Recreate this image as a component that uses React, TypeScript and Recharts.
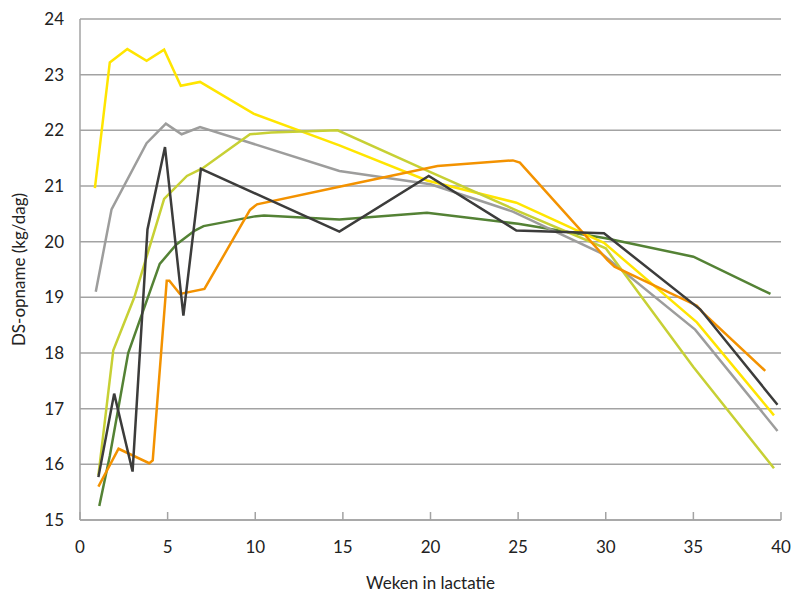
import { LineChart, Line, XAxis, YAxis, CartesianGrid } from "recharts";

const xTicks = [0, 5, 10, 15, 20, 25, 30, 35, 40];
const yTicks = [15, 16, 17, 18, 19, 20, 21, 22, 23, 24];

const yellowWeeks = [0.85, 1.7, 2.7, 3.8, 4.8, 5.75, 6.85, 9.9, 14.8, 19.8, 24.9, 29.9, 35.2, 39.6];
const yellowValues = [20.96, 23.22, 23.46, 23.25, 23.45, 22.8, 22.87, 22.3, 21.73, 21.1, 20.7, 19.98, 18.55, 16.88];

const grayWeeks = [0.9, 1.8, 3.8, 4.9, 5.8, 6.85, 14.8, 20, 24.7, 29.7, 35.1, 39.8];
const grayValues = [19.1, 20.58, 21.77, 22.12, 21.93, 22.06, 21.27, 21.03, 20.54, 19.8, 18.42, 16.6];

const lightGreenWeeks = [1.05, 1.9, 3.1, 4.8, 6.1, 7.0, 9.7, 10.9, 14.7, 20, 25, 30, 35, 39.6];
const lightGreenValues = [15.8, 18.05, 19.0, 20.77, 21.18, 21.32, 21.93, 21.96, 22.0, 21.25, 20.55, 19.88, 17.75, 15.93];

const darkGreenWeeks = [1.1, 1.7, 2.75, 4.55, 5.5, 6.55, 7.05, 9.9, 10.5, 14.8, 19.8, 25, 30, 35, 39.4];
const darkGreenValues = [15.25, 16.15, 18.0, 19.6, 19.95, 20.2, 20.28, 20.45, 20.47, 20.4, 20.52, 20.32, 20.06, 19.73, 19.06];

const orangeWeeks = [1.05, 2.2, 3.95, 4.15, 4.95, 5.1, 5.7, 7.1, 9.7, 10.1, 15, 20.4, 24.7, 25.1, 30.1, 30.5, 35.2, 35.5, 39.1];
const orangeValues = [15.6, 16.28, 16.02, 16.07, 19.3, 19.3, 19.06, 19.15, 20.57, 20.67, 21.0, 21.36, 21.46, 21.42, 19.67, 19.55, 18.85, 18.74, 17.68];

const blackWeeks = [1.05, 1.95, 3.0, 3.85, 4.85, 5.9, 6.9, 14.8, 19.9, 24.9, 29.9, 35.4, 39.8];
const blackValues = [15.77, 17.27, 15.87, 20.22, 21.7, 18.67, 21.31, 20.18, 21.18, 20.2, 20.15, 18.78, 17.07];

const toPoints = (weeks: number[], values: number[]) =>
  weeks.map((week, i) => ({ week, value: values[i] }));

const series = [
  { name: "darkGreen", color: "#548235", data: toPoints(darkGreenWeeks, darkGreenValues) },
  { name: "gray", color: "#9d9d9c", data: toPoints(grayWeeks, grayValues) },
  { name: "yellow", color: "#ffe500", data: toPoints(yellowWeeks, yellowValues) },
  { name: "lightGreen", color: "#c7d034", data: toPoints(lightGreenWeeks, lightGreenValues) },
  { name: "orange", color: "#f39200", data: toPoints(orangeWeeks, orangeValues) },
  { name: "black", color: "#3c3c3b", data: toPoints(blackWeeks, blackValues) },
];

const font = "Lato, 'Open Sans', sans-serif";

export default function App() {
  return (
    <div style={{ position: "absolute", left: 0, top: 0, background: "#fff", fontFamily: font }}>
      <LineChart width={791} height={593} margin={{ top: 19, right: 10, left: 30, bottom: 0 }}>
        <CartesianGrid vertical={false} stroke="#a3a3a3" strokeWidth={1.5} />
        <XAxis
          type="number"
          dataKey="week"
          domain={[0, 40]}
          ticks={xTicks}
          height={73}
          stroke="#a3a3a3"
          strokeWidth={1.5}
          tickSize={-8}
          tickMargin={29}
          tick={{ fill: "#222", fontSize: 17, fontFamily: font }}
          label={{ value: "Weken in lactatie", position: "insideBottom", offset: 4, fill: "#222", fontSize: 17, fontFamily: font }}
        />
        <YAxis
          type="number"
          dataKey="value"
          domain={[15, 24]}
          ticks={yTicks}
          width={50}
          stroke="#a3a3a3"
          strokeWidth={1.5}
          tickLine={false}
          tickMargin={10}
          tick={{ fill: "#222", fontSize: 17, fontFamily: font }}
          label={{ value: "DS-opname (kg/dag)", angle: -90, position: "insideLeft", offset: -11, fill: "#222", fontSize: 17, fontFamily: font, style: { textAnchor: "middle" } }}
        />
        {series.map((s) => (
          <Line
            key={s.name}
            data={s.data}
            dataKey="value"
            type="linear"
            stroke={s.color}
            strokeWidth={2.5}
            dot={false}
            activeDot={false}
            isAnimationActive={false}
          />
        ))}
      </LineChart>
    </div>
  );
}
